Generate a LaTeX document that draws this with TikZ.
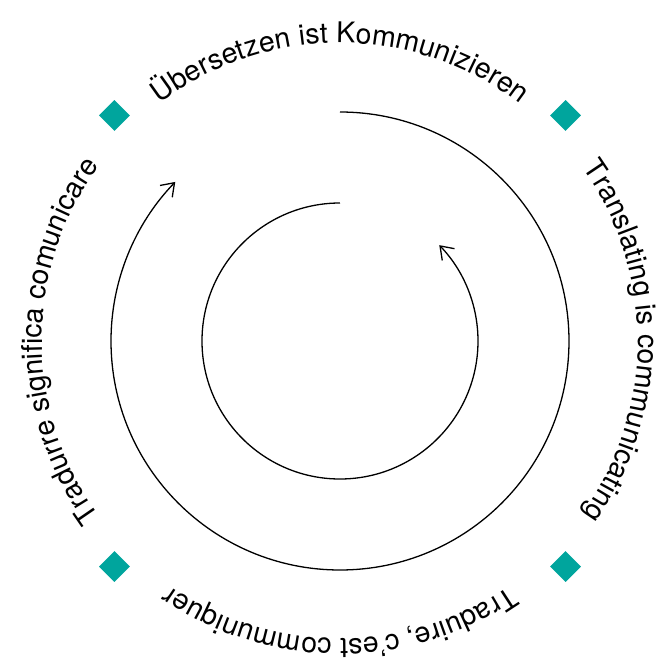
\documentclass[tikz,border=0pt]{standalone}
\usepackage{fontspec}
\setmainfont{TeX Gyre Heros}
\usepackage{tikz}
\usetikzlibrary{arrows.meta, decorations.text, shapes.geometric}
\definecolor{marker}{HTML}{00A59D}

\begin{document}
\begin{tikzpicture}[
    x=1pt, y=1pt,
    cycleline/.style={line width=1.3pt,
                      -{Straight Barb[length=12pt, width=17pt, line width=1.3pt]}},
    gem/.style={diamond, fill=marker, minimum size=31pt, inner sep=0pt},
    motto/.style={decorate, decoration={text along path, text align=center,
                  text={|\fontsize{28.5}{32}\selectfont|#1}}},
]
  \useasboundingbox (-340,-331) rectangle (329,341);

  % the two turning arrows
  \draw[cycleline] (90:229pt) arc[start angle=90, end angle=-224, radius=229pt];
  \draw[cycleline] (90:138pt) arc[start angle=90, end angle=404, radius=138pt];

  % four markers between the sayings
  \node[gem] (nw) at (135:319pt) {};
  \node[gem] (ne) at (45:319pt)  {};
  \node[gem] (se) at (-45:319pt) {};
  \node[gem] (sw) at (-135:319pt) {};

  % sayings round the circle
  \path[motto={Übersetzen ist Kommunizieren}]
    (135:298pt) arc[start angle=135, end angle=45, radius=298pt];
  \path[motto={Translating is communicating}]
    (45:298pt) arc[start angle=45, end angle=-45, radius=298pt];
  \path[motto={Traduire, c’est communiquer}]
    (-45:298pt) arc[start angle=-45, end angle=-135, radius=298pt];
  \path[motto={Tradurre significa comunicare}]
    (-135:298pt) arc[start angle=-135, end angle=-225, radius=298pt];
\end{tikzpicture}
\end{document}
